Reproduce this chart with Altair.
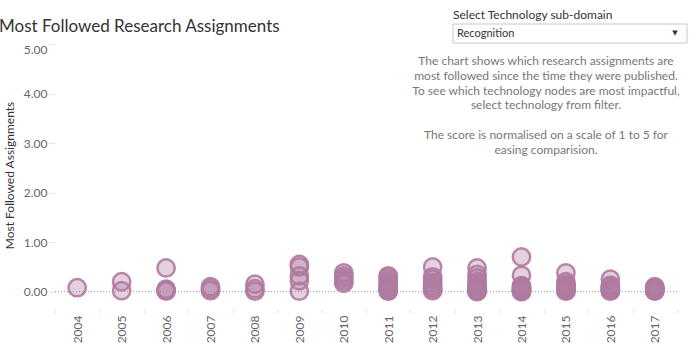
import altair as alt
import pandas as pd

years = [2004, 2005, 2006, 2007, 2008, 2009, 2010, 2011, 2012, 2013, 2014, 2015, 2016, 2017]
scores = [
    [0.08],
    [0.20, 0.02],
    [0.48, 0.05, 0.03, 0.01],
    [0.10, 0.06, 0.02],
    [0.15, 0.06, 0.01],
    [0.55, 0.50, 0.32, 0.22, 0.01],
    [0.38, 0.32, 0.27, 0.22, 0.17],
    [0.32, 0.30, 0.25, 0.20, 0.15, 0.12, 0.10, 0.07, 0.05, 0.03, 0.02, 0.01],
    [0.50, 0.30, 0.25, 0.18, 0.12, 0.08, 0.05, 0.02],
    [0.48, 0.35, 0.28, 0.20, 0.15, 0.10, 0.07, 0.05, 0.03, 0.01, 0.00],
    [0.70, 0.33, 0.12, 0.10, 0.08, 0.06, 0.04, 0.03, 0.02, 0.01, 0.00],
    [0.38, 0.20, 0.15, 0.12, 0.10, 0.08, 0.05, 0.03, 0.02, 0.01],
    [0.25, 0.13, 0.10, 0.08, 0.05, 0.03, 0.02, 0.01],
    [0.10, 0.08, 0.06, 0.05, 0.04, 0.03, 0.02, 0.01],
]
y_ticks = [0, 1, 2, 3, 4, 5]
zero_line = [0]

title_text = "Most Followed Research Assignments"
y_title = "Most Followed Assignments"
filter_label = "Select Technology sub-domain"
filter_value = "Recognition"
description_1 = [
    "The chart shows which research assignments are",
    "most followed since the time they were published.",
    "To see which technology nodes are most impactful,",
    "select technology from filter.",
]
description_2 = [
    "The score is normalised on a scale of 1 to 5 for",
    "easing comparision.",
]

rows = [{"Year": str(y), "Score": s} for y, vals in zip(years, scores) for s in vals]
df = pd.DataFrame(rows)

FONT = "Lato"
PURPLE = "#b07aa1"

x_enc = alt.X(
    "Year:O",
    scale=alt.Scale(type="band", paddingInner=0, paddingOuter=0),
    axis=alt.Axis(
        title=None, labelAngle=-90, tickBand="extent", domain=False,
        tickColor="#e6e6e6", tickSize=4, labelPadding=2,
        labelColor="#666666", labelFontSize=12, labelFont=FONT,
    ),
)
y_scale = alt.Scale(domain=[-0.35, 5], nice=False, zero=False)
y_enc = alt.Y(
    "Score:Q",
    scale=y_scale,
    axis=alt.Axis(
        values=y_ticks, format=".2f", grid=False, domain=False,
        tickColor="#e6e6e6", tickSize=7, labelPadding=1, labelFlush=True,
        labelColor="#666666", labelFontSize=12, labelFont=FONT,
        title=y_title, titleFont=FONT, titleFontSize=12, titleColor="#333333",
        titleFontWeight="normal", titleX=-46, titleY=131, titleAngle=-90,
        titleAlign="center", titleBaseline="middle",
    ),
)

zero = alt.Chart(pd.DataFrame({"v": zero_line})).mark_rule(
    color="#999999", strokeDash=[1, 2], strokeWidth=1
).encode(y=alt.Y("v:Q", scale=y_scale))

points = alt.Chart(df).mark_circle(
    size=300, color=PURPLE, opacity=1, fillOpacity=0.35,
    stroke=PURPLE, strokeWidth=2.5, strokeOpacity=0.9,
).encode(x=x_enc, y=y_enc)

one = pd.DataFrame({"a": [0]})

title = alt.Chart(one).mark_text(
    text=title_text, font=FONT, fontSize=17, color="#333333",
    align="left", baseline="alphabetic",
).encode(x=alt.value(-56), y=alt.value(-12))

flabel = alt.Chart(one).mark_text(
    text=filter_label, font=FONT, fontSize=12, color="#333333",
    align="left", baseline="alphabetic",
).encode(x=alt.value(398), y=alt.value(-25))

box = alt.Chart(one).mark_rect(
    fill="white", stroke="#c8c8c8", strokeWidth=1
).encode(x=alt.value(398), x2=alt.value(632), y=alt.value(-20), y2=alt.value(-1))

fvalue = alt.Chart(one).mark_text(
    text=filter_value, font=FONT, fontSize=11, color="#333333",
    align="left", baseline="alphabetic",
).encode(x=alt.value(402), y=alt.value(-7))

arrow = alt.Chart(one).mark_text(
    text="▼", font="DejaVu Sans", fontSize=7, color="#333333",
    align="center", baseline="middle",
).encode(x=alt.value(620), y=alt.value(-11))

desc1 = alt.Chart(one).mark_text(
    text=description_1, font=FONT, fontSize=12, color="#777777",
    align="center", baseline="top", lineHeight=14.8,
).encode(x=alt.value(491), y=alt.value(12))

desc2 = alt.Chart(one).mark_text(
    text=description_2, font=FONT, fontSize=12, color="#777777",
    align="center", baseline="top", lineHeight=14.8,
).encode(x=alt.value(491), y=alt.value(86))

chart = alt.layer(zero, points, title, flabel, box, fvalue, arrow, desc1, desc2).properties(
    width=622, height=265,
    autosize=alt.AutoSizeParams(type="none"),
    padding={"left": 55, "top": 44, "right": 22, "bottom": 39},
).configure_view(stroke=None)

chart.save("out.html", embed_options={"renderer": "svg", "actions": False})
